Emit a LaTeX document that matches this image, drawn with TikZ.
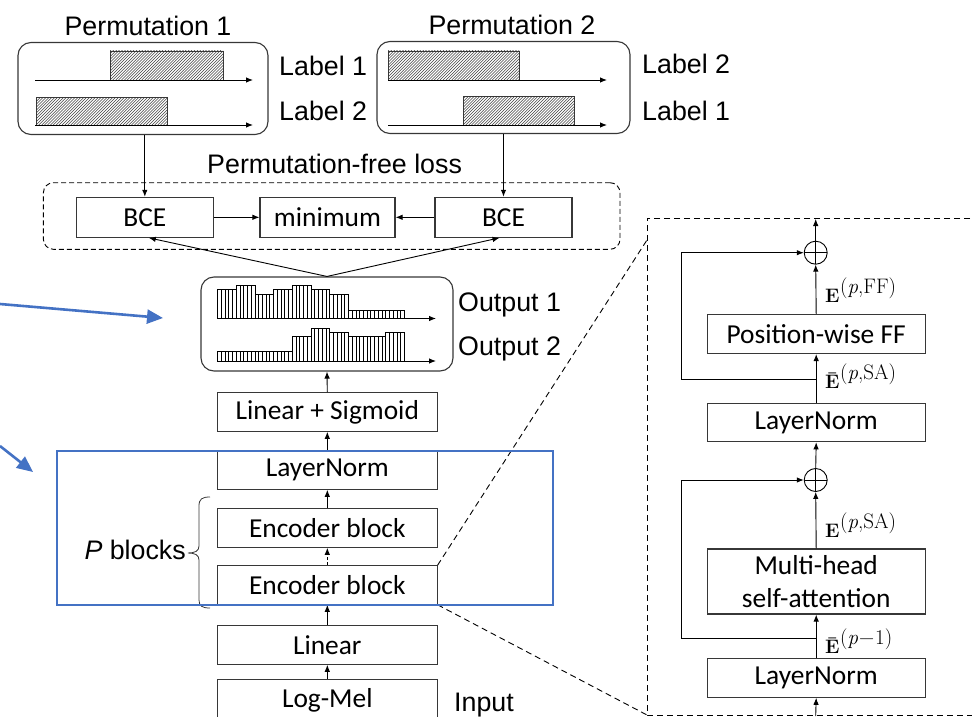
\documentclass[tikz,border=0pt]{standalone}
\usepackage{fontspec}
\newfontfamily\arialfont{Liberation Sans}
\newfontfamily\boxfont{Carlito}
\usetikzlibrary{arrows.meta,calc}
\definecolor{edgegray}{RGB}{55,55,55}
\definecolor{accentblue}{RGB}{68,114,196}

% hatched activity segment: corners (x1,y1) (x2,y2)
\newcommand\hatchrect[4]{%
  \begin{scope}
    \clip (#1,#2) rectangle (#3,#4);
    \foreach \i in {0,...,60} {\draw[hatchline] ({#1-32+\i*2.9},#4) -- ++(32,-32);}
  \end{scope}
  \draw[thinframe] (#1,#2) rectangle (#3,#4);
}
% striped bar chart: baseline y, list of bar heights
\newcommand\stripebars[2]{%
  \foreach \h [count=\n from 0] in {#2} {
    \pgfmathsetmacro\xa{217.5+\n*18.7}
    \draw[barline] (\xa,#1) rectangle ++(18.7,-\h);
    \foreach \j in {1,2,3,4} {\draw[barline] ({\xa+\j*3.74},#1) -- ++(0,-\h);}
  }
}
% feature label: bold E (optionally barred) with a large raised superscript
\newcommand\featlbl[2]{%
  {\rmfamily\fontsize{19.5}{20}\selectfont\bfseries #1}\kern0.6pt%
  \raisebox{9pt}{\rmfamily\fontsize{21}{21}\selectfont #2}}

\begin{document}
\begin{tikzpicture}[x=1pt,y=-1pt,
  lbl/.style={font=\arialfont\fontsize{26.8}{30}\selectfont, inner sep=0pt},
  block/.style={draw=edgegray, line width=1.1pt, minimum width=219.5pt, minimum height=38.5pt,
    inner sep=0pt, font=\boxfont\fontsize{27.4}{33}\selectfont, align=center},
  conn/.style={draw=black, line width=0.9pt, -{Latex[length=7pt,width=5.5pt]}},
  frame/.style={draw=edgegray, line width=1.1pt, rounded corners=13pt, inner sep=0pt},
  thinframe/.style={draw=edgegray, line width=0.9pt},
  hatchline/.style={draw=black!75, line width=0.55pt},
  barline/.style={draw=black, line width=0.75pt},
  axis/.style={draw=black, line width=0.9pt, -{Latex[length=7pt,width=5.5pt]}},
  dashedline/.style={draw=black, line width=0.9pt, dash pattern=on 6pt off 4pt},
  note/.style={accentblue, line width=2.6pt, -{Triangle[length=16pt,width=14pt]}},
  mathlbl/.style={inner sep=0pt, anchor=base west},
  plus/.style={draw=black, line width=0.9pt, circle, minimum size=23pt, inner sep=0pt,
    path picture={\draw[line width=0.9pt] (path picture bounding box.north) -- (path picture bounding box.south)
      (path picture bounding box.west) -- (path picture bounding box.east);}},
]
\useasboundingbox (0,0) rectangle (972,717);
\clip (0,0) rectangle (972,717);

% ---- label permutations ----
\node[frame, minimum width=250pt, minimum height=92pt] (perm1) at (143,88.5) {};
\node[frame, minimum width=253pt, minimum height=92pt] (perm2) at (503.5,87.5) {};
\node[lbl, anchor=base] (perm1title) at (148,36) {Permutation 1};
\node[lbl, anchor=base] (perm2title) at (512,35) {Permutation 2};

\hatchrect{110}{51}{223}{80}
\hatchrect{36}{97}{167}{125}
\draw[axis] (35,80) -- (253,80);
\draw[axis] (35,125) -- (253,125);

\hatchrect{388}{51}{519}{80}
\hatchrect{463}{96}{574}{125}
\draw[axis] (388,80) -- (607,80);
\draw[axis] (388,125) -- (607,125);

\node[lbl, anchor=base west] (l11) at (279,75) {Label 1};
\node[lbl, anchor=base west] (l12) at (279,120.5) {Label 2};
\node[lbl, anchor=base west] (l21) at (642,74) {Label 2};
\node[lbl, anchor=base west] (l22) at (642,120.5) {Label 1};

% ---- permutation-free loss ----
\node[draw=black, line width=0.9pt, dash pattern=on 5pt off 3pt, rounded corners=10pt,
  minimum width=576.6pt, minimum height=66.6pt, inner sep=0pt] (lossframe) at (331.7,216) {};
\node[lbl, anchor=base] (losstitle) at (334.6,173.3) {Permutation-free loss};
\node[block, minimum width=136.5pt, minimum height=40pt] (bceL) at (144.8,217.3) {BCE};
\node[block, minimum width=135pt, minimum height=40pt] (mini) at (327.5,217.3) {minimum};
\node[block, minimum width=137pt, minimum height=40pt] (bceR) at (503.5,217.3) {BCE};
\draw[conn] (bceL.east) -- (mini.west);
\draw[conn] (bceR.west) -- (mini.east);
\draw[conn] (bceL.north |- perm1.south) -- (bceL.north);
\draw[conn] (bceR.north |- perm2.south) -- (bceR.north);

% ---- network outputs ----
\node[frame, minimum width=252pt, minimum height=94pt] (out) at (327,324) {};
\stripebars{318.5}{29,33,24,29,33,29,24,8,8,8}
\stripebars{361}{10,10,10,10,25,33,29,25,25,29}
\draw[axis] (217.5,318.5) -- (436,318.5);
\draw[axis] (217.5,361) -- (436,361);
\node[lbl, anchor=base west] (o1) at (458,311.7) {Output 1};
\node[lbl, anchor=base west] (o2) at (458,355) {Output 2};
\draw[conn] (out.north) -- ($(bceL.south)+(4,0)$);
\draw[conn] (out.north) -- ($(bceR.south)+(-4,0)$);

% ---- encoder stack ----
\node[block] (ls) at (327.3,412) {Linear + Sigmoid};
\node[block] (lnA) at (327.3,470) {LayerNorm};
\node[block] (encU) at (327.3,528) {Encoder block};
\node[block] (encL) at (327.3,585) {Encoder block};
\node[block] (linear) at (327.3,645) {Linear};
\node[block, minimum height=41pt] (logmel) at (327.3,700) {Log-Mel};
\node[lbl, anchor=base west] (inlbl) at (454,711) {Input};

\draw[conn] (ls.north) -- (out.south);
\draw[conn] (lnA.north) -- (ls.south);
\draw[conn] (encU.north) -- (lnA.south);
\draw[conn, dash pattern=on 3pt off 2pt] (encL.north) -- (encU.south);
\draw[conn] (linear.north) -- (encL.south);
\draw[conn] (logmel.north) -- (linear.south);

% brace grouping the repeated encoder blocks
\draw[edgegray, line width=0.8pt]
  (210,497) .. controls (202,497) and (199,499) .. (199,506) -- (199,546)
  .. controls (199,551) and (195,553) .. (188,553)
  .. controls (195,553) and (199,555) .. (199,560) -- (199,600)
  .. controls (199,606) and (202,608) .. (210,608);
\node[lbl, anchor=base east] (pblocks) at (186,559) {\textit{P} blocks};

% ---- encoder block detail ----
\coordinate (pTL) at (647,218);
\coordinate (pBL) at (647,715);
\coordinate (pTR) at (980,218);
\coordinate (pBR) at (980,715);
\coordinate (zoomTop) at (647,240);
\draw[dashedline] (pTR) -- (pTL) -- (pBL) -- (pBR);
\draw[dashedline] (encL.north east) -- (zoomTop);
\draw[dashedline] (encL.south east) -- (pBL);

\node[plus] (plus1) at (815.7,252.7) {};
\node[block, minimum width=218pt, minimum height=39pt] (posff) at (816.2,334) {Position-wise FF};
\node[block, minimum width=218pt] (ln1) at (816.2,422.5) {LayerNorm};
\node[plus] (plus2) at (815.7,480) {};
\node[block, minimum width=218pt, minimum height=65pt] (mhsa) at (816.2,581.5) {Multi-head\\self-attention};
\node[block, minimum width=218pt] (ln2) at (816.2,678) {LayerNorm};

\coordinate (outTop) at (815.7,219);
\coordinate (inBot) at (815.7,716);
\coordinate (br1) at (815.7,379);
\coordinate (br2) at (815.7,638.3);

\draw[conn] (plus1.north) -- (outTop);
\draw[conn] (posff.north) -- (plus1.south);
\draw[conn] (ln1.north) -- (posff.south);
\draw[conn] (br1) -- (681.7,379) |- (plus1.west);
\draw[conn] (plus2.north) -- (ln1.south);
\draw[conn] (mhsa.north) -- (plus2.south);
\draw[conn] (ln2.north) -- (mhsa.south);
\draw[conn] (br2) -- (681.7,638.3) |- (plus2.west);
\draw[conn] (inBot) -- (ln2.south);

\node[mathlbl] (eff) at (825,302) {\featlbl{E}{(\textit{p},FF)}};
\node[mathlbl] (ebsa) at (825,388) {\featlbl{\={E}}{(\textit{p},SA)}};
\node[mathlbl] (esa) at (825,537.5) {\featlbl{E}{(\textit{p},SA)}};
\node[mathlbl] (eprev) at (825,653) {\featlbl{\={E}}{(\textit{p}\kern1pt−\kern1pt1)}};

% ---- highlight ----
\draw[accentblue, line width=2.5pt] (57,451) rectangle (553,605);
\coordinate (n1s) at (0,304);
\coordinate (n1e) at (163,318);
\coordinate (n2s) at (0,446);
\coordinate (n2e) at (33,472);
\draw[note] (n1s) -- (n1e);
\draw[note] (n2s) -- (n2e);
\end{tikzpicture}
\end{document}
